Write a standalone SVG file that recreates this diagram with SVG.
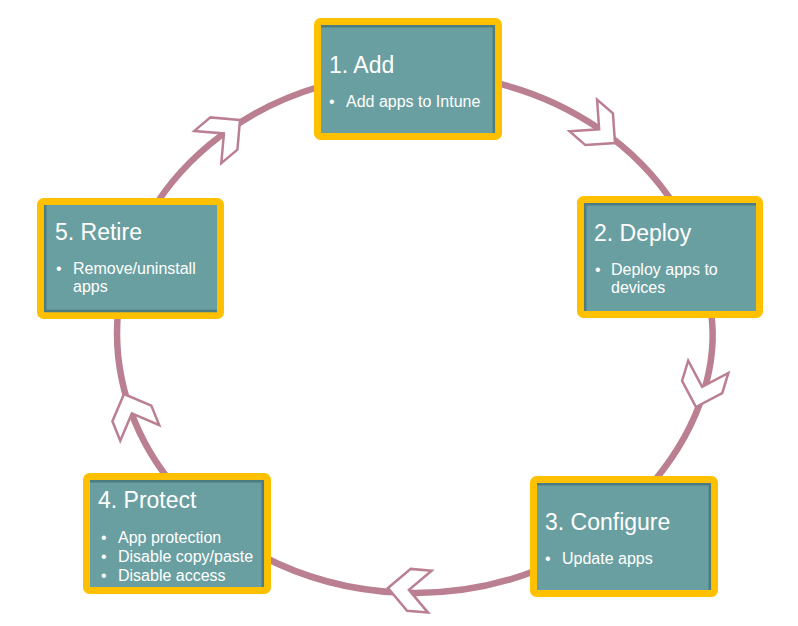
<svg xmlns="http://www.w3.org/2000/svg" width="798" height="626" viewBox="0 0 798 626">
<style>
.arc{fill:none;stroke:#BA7F90;stroke-width:6.5;}
.chev{fill:#FFFFFF;stroke:#BA7F90;stroke-width:2.5;stroke-linejoin:miter;}
.box{fill:#6A9FA2;stroke:#FFC000;stroke-width:7;}
.edge{stroke:#4D7C80;stroke-width:2.5;fill:none;}
.title{font-family:"Liberation Sans",Arial,sans-serif;font-size:23px;fill:#FFFFFF;}
.item{font-family:"Liberation Sans",Arial,sans-serif;font-size:16px;fill:#FFFFFF;}
</style>
<defs>
<polygon id="chevron" points="0,0 -21,-21 -42,-21 -21,0 -42,21 -21,21"/>
</defs>
<rect width="798" height="626" fill="#FFFFFF"/>
<g id="connectors">
<path class="arc" d="M495,82.6 A298,260 0 0 1 675,206"/>
<path class="arc" d="M711,312 C718,360 703,422 655,480"/>
<path class="arc" d="M540,569 A298,260 0 0 1 262,556"/>
<path class="arc" d="M170,481 A298,260 0 0 1 118,312"/>
<path class="arc" d="M150,214 A298,260 0 0 1 320,86.5"/>
<use href="#chevron" class="chev" transform="translate(615,143) rotate(41)"/>
<use href="#chevron" class="chev" transform="translate(696,407) rotate(107)"/>
<use href="#chevron" class="chev" transform="translate(388,588) rotate(185)"/>
<use href="#chevron" class="chev" transform="translate(124,394) rotate(248)"/>
<use href="#chevron" class="chev" transform="translate(240,120) rotate(-40)"/>
</g>
<g id="node1">
<rect class="box" x="317.5" y="21.5" width="181" height="115" rx="3"/>
<path class="edge" d="M321,26.2 H493.8 V133"/>
<text class="title" x="329" y="73">1. Add</text>
<text class="item" x="329" y="107">•</text>
<text class="item" x="346" y="107">Add apps to Intune</text>
</g>
<g id="node2">
<rect class="box" x="580.5" y="199.5" width="179" height="115" rx="3"/>
<path class="edge" d="M585.2,311 V204.2 H756"/>
<text class="title" x="594" y="241">2. Deploy</text>
<text class="item" x="595" y="275">•</text>
<text class="item" x="611" y="275">Deploy apps to</text>
<text class="item" x="611" y="293">devices</text>
</g>
<g id="node3">
<rect class="box" x="533.5" y="479.5" width="181" height="114" rx="3"/>
<path class="edge" d="M537,484.2 H709.8 V590"/>
<text class="title" x="545" y="530">3. Configure</text>
<text class="item" x="545" y="564">•</text>
<text class="item" x="562" y="564">Update apps</text>
</g>
<g id="node4">
<rect class="box" x="86.5" y="476.5" width="181" height="114" rx="3"/>
<path class="edge" d="M90,481.2 H262.8 V587"/>
<text class="title" x="98" y="508">4. Protect</text>
<text class="item" x="101" y="543">•</text>
<text class="item" x="118" y="543">App protection</text>
<text class="item" x="101" y="562">•</text>
<text class="item" x="118" y="562">Disable copy/paste</text>
<text class="item" x="101" y="581">•</text>
<text class="item" x="118" y="581">Disable access</text>
</g>
<g id="node5">
<rect class="box" x="40.5" y="201.5" width="180" height="114" rx="3"/>
<path class="edge" d="M45.2,205 V311 H217"/>
<text class="title" x="55" y="240">5. Retire</text>
<text class="item" x="56" y="274">•</text>
<text class="item" x="73" y="274">Remove/uninstall</text>
<text class="item" x="73" y="292">apps</text>
</g>
</svg>
